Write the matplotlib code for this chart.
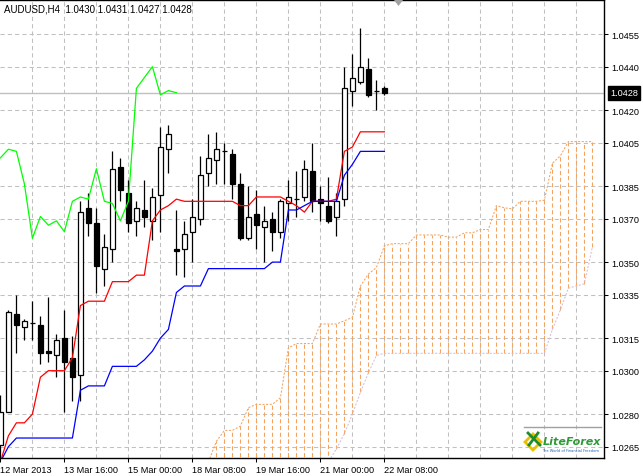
import matplotlib
matplotlib.use("Agg")
import matplotlib.pyplot as plt
from matplotlib.patches import Rectangle, Polygon
from matplotlib.lines import Line2D
import matplotlib.transforms as mtransforms

# ---------------- data ----------------
title_text = "AUDUSD,H4  1.0430 1.0431 1.0427 1.0428"
date_labels = ["12 Mar 2013", "13 Mar 16:00", "15 Mar 00:00", "18 Mar 08:00",
               "19 Mar 16:00", "21 Mar 00:00", "22 Mar 08:00"]
price_ticks = [1.0455, 1.0440, 1.0420, 1.0405, 1.0385, 1.0370, 1.0350,
               1.0335, 1.0315, 1.0300, 1.0280, 1.0265]

opens = [1.0266, 1.0281, 1.0326, 1.0320, 1.0322, 1.0321, 1.0309, 1.0307, 1.0315, 1.0306,
         1.0298, 1.0375, 1.0368, 1.0347, 1.0356, 1.0394, 1.0382, 1.0369, 1.0374, 1.0369,
         1.0381, 1.0402, 1.0356, 1.0356, 1.0364, 1.0370, 1.0391, 1.0397, 1.0401, 1.0400,
         1.0386, 1.0361, 1.0372, 1.0366, 1.0370, 1.0364, 1.0377, 1.0379, 1.0380, 1.0392,
         1.0379, 1.0376, 1.0371, 1.0379, 1.0429, 1.0433, 1.0439, 1.0429, 1.0430]
highs = [1.0289, 1.0328, 1.0335, 1.0324, 1.0332, 1.0325, 1.0334, 1.0317, 1.0328, 1.0316,
         1.0378, 1.0382, 1.0375, 1.0363, 1.0401, 1.0398, 1.0388, 1.0378, 1.0388, 1.0384,
         1.0412, 1.0413, 1.0374, 1.0369, 1.0379, 1.0399, 1.0409, 1.0410, 1.0405, 1.0402,
         1.0391, 1.0385, 1.0383, 1.0376, 1.0373, 1.0379, 1.0388, 1.0392, 1.0397, 1.0405,
         1.0385, 1.0389, 1.0382, 1.0440, 1.0446, 1.0458, 1.0444, 1.0434, 1.0431]
lows = [1.0259, 1.0281, 1.0308, 1.0314, 1.0314, 1.0303, 1.0304, 1.0297, 1.0281, 1.0286,
        1.0286, 1.0362, 1.0336, 1.0339, 1.0350, 1.0378, 1.0364, 1.0362, 1.0366, 1.0360,
        1.0364, 1.0391, 1.0344, 1.0343, 1.0350, 1.0367, 1.0385, 1.0386, 1.0386, 1.0379,
        1.0360, 1.0360, 1.0356, 1.0350, 1.0355, 1.0361, 1.0369, 1.0371, 1.0378, 1.0373,
        1.0369, 1.0368, 1.0362, 1.0376, 1.0422, 1.0432, 1.0426, 1.0420, 1.0427]
closes = [1.0281, 1.0327, 1.0321, 1.0323, 1.0322, 1.0308, 1.0308, 1.0314, 1.0304, 1.0297,
          1.0373, 1.0368, 1.0348, 1.0357, 1.0393, 1.0383, 1.0368, 1.0375, 1.0371, 1.0380,
          1.0403, 1.0409, 1.0355, 1.0363, 1.0371, 1.0390, 1.0398, 1.0402, 1.0401, 1.0386,
          1.0361, 1.0371, 1.0367, 1.0369, 1.0364, 1.0378, 1.0380, 1.0379, 1.0393, 1.0378,
          1.0377, 1.0369, 1.0378, 1.0430, 1.0435, 1.0440, 1.0427, 1.0429, 1.0428]

tenkan = [1.0258, 1.0270, 1.0276, 1.0276, 1.0280, 1.0297, 1.0300, 1.0300, 1.0300, 1.0306,
          1.0330, 1.0332, 1.0332, 1.0332, 1.0341, 1.0341, 1.0341, 1.0344, 1.0344, 1.0369,
          1.0374, 1.0376, 1.0379, 1.0378, 1.0378, 1.0378, 1.0378, 1.0378, 1.0378, 1.0378,
          1.0376, 1.0376, 1.0380, 1.0380, 1.0380, 1.0380, 1.0378, 1.0376, 1.0373, 1.0378,
          1.0378, 1.0378, 1.0379, 1.0401, 1.0403, 1.0410, 1.0410, 1.0410, 1.0410]
kijun = [1.0258, 1.0265, 1.0269, 1.0269, 1.0269, 1.0269, 1.0269, 1.0269, 1.0269, 1.0269,
         1.0291, 1.0293, 1.0293, 1.0293, 1.0302, 1.0302, 1.0302, 1.0302, 1.0305, 1.0309,
         1.0315, 1.0319, 1.0336, 1.0339, 1.0339, 1.0339, 1.0347, 1.0347, 1.0347, 1.0347,
         1.0347, 1.0347, 1.0347, 1.0347, 1.0350, 1.0350, 1.0374, 1.0374, 1.0376, 1.0378,
         1.0378, 1.0378, 1.0378, 1.0390, 1.0395, 1.0401, 1.0401, 1.0401, 1.0401]
# Senkou span B, bars 26..74 (already shifted forward)
senkou_b = [1.0250, 1.0250, 1.0250, 1.0250, 1.0250, 1.0250, 1.0250, 1.0250, 1.0250, 1.0250,
            1.0250, 1.0250, 1.0250, 1.0250, 1.0255, 1.0258, 1.0264, 1.0271, 1.0280, 1.0290,
            1.0299, 1.0307, 1.0308, 1.0308, 1.0308, 1.0308, 1.0308, 1.0308, 1.0308, 1.0308,
            1.0308, 1.0308, 1.0308, 1.0308, 1.0308, 1.0308, 1.0308, 1.0308, 1.0308, 1.0308,
            1.0308, 1.0308, 1.0308, 1.0319, 1.0328, 1.0338, 1.0339, 1.0340, 1.0357]
shift = 26

# ---------------- figure ----------------
W, H = 643, 477
fig = plt.figure(figsize=(W / 100, H / 100), dpi=100)
fig.patch.set_facecolor("white")
ax = fig.add_axes([0, 18 / H, 604 / W, 458 / H])
ax.set_facecolor("white")

n = len(closes)
xs = list(range(n))
ax.set_xlim(-0.05, 75.45)
ax.set_ylim(1.02598, 1.04707)

FONT = "Liberation Sans"
grid_kw = dict(color="#c0c0c0", linestyle=(0, (4, 3)), linewidth=0.75)

# grid
for p in price_ticks:
    ax.axhline(p, zorder=0, **grid_kw)
for gx in range(4, 76, 4):
    ax.axvline(gx, zorder=0, **grid_kw)

# ticks
ax.yaxis.tick_right()
ax.set_yticks(price_ticks)
ax.set_yticklabels([f"{p:.4f}" for p in price_ticks], fontsize=6.6, family=FONT)
ax.tick_params(axis="y", length=3, width=0.75, pad=2, color="black")
major_x = list(range(0, 8 * len(date_labels), 8))
ax.set_xticks(major_x)
ax.set_xticklabels(date_labels, fontsize=6.6, family=FONT, ha="left")
ax.tick_params(axis="x", length=3, width=0.75, pad=2)
ax.spines["left"].set_visible(False)
for s in ("top", "right", "bottom"):
    ax.spines[s].set_linewidth(1.0)
    ax.spines[s].set_color("black")

# bid line
ax.axhline(closes[-1], color="#c0c0c0", linewidth=1.0, zorder=1)

# cloud (Senkou A derived from tenkan / kijun, shifted forward)
senkou_a = [(t + k) / 2 for t, k in zip(tenkan, kijun)]
cloud_x = [i + shift for i in xs]
ax.vlines(cloud_x, senkou_b, senkou_a, colors="#f4a460",
          linestyles=[(0, (4, 2.5))], linewidth=0.75, zorder=2)
ax.plot(cloud_x, senkou_a, color="#f4a460", linestyle=(0, (2, 1.5)), linewidth=0.75, zorder=2)
ax.plot(cloud_x, senkou_b, color="#d8bfd8", linestyle=(0, (2, 1.5)), linewidth=0.75, zorder=2)

# candles
bw = 0.66
for i in xs:
    o, h, l, c = opens[i], highs[i], lows[i], closes[i]
    ax.vlines(i, l, h, colors="black", linewidth=0.9, zorder=3)
    if c == o:
        ax.hlines(o, i - bw / 2, i + bw / 2, colors="black", linewidth=0.9, zorder=4)
    else:
        fc = "white" if c > o else "black"
        ax.add_patch(Rectangle((i - bw / 2, min(o, c)), bw, abs(c - o),
                               facecolor=fc, edgecolor="black", linewidth=0.9, zorder=4))

# ichimoku lines
ax.plot(xs, tenkan, color="#ff0000", linewidth=0.9, zorder=5)
ax.plot(xs, kijun, color="#0000ff", linewidth=0.9, zorder=5)
chikou_x = [i - shift for i in xs[shift:]]
ax.plot(chikou_x, closes[shift:], color="#00ff00", linewidth=0.9, zorder=5)

# current price label
ax.annotate(f"{closes[-1]:.4f}", xy=(1.0, closes[-1]), xycoords=("axes fraction", "data"),
            xytext=(6, 0), textcoords="offset pixels", va="center", ha="left",
            fontsize=6.6, family=FONT, color="white",
            bbox=dict(boxstyle="square,pad=0.25", facecolor="black", edgecolor="black"),
            annotation_clip=False)

# title
fig.text(4 / W, 1 - 9.5 / H, title_text, fontsize=7, family=FONT, color="#000000",
         va="center", ha="left")

# chart shift marker
fig.add_artist(Polygon([[394 / W, 1 - 1 / H], [403 / W, 1 - 1 / H], [398.5 / W, 1 - 7 / H]],
                       closed=True, facecolor="#a0a0a0", edgecolor="none",
                       transform=fig.transFigure))

# logo (approximate)
fig.add_artist(Line2D([524 / W, 601 / W], [1 - 428 / H, 1 - 428 / H], color="#a0a0a0",
                      linewidth=1.0, transform=fig.transFigure))
fig.add_artist(Polygon([[525 / W, 1 - 443 / H], [533 / W, 1 - 435 / H], [541 / W, 1 - 443 / H],
                        [533 / W, 1 - 451 / H]], closed=True, facecolor="none",
                       edgecolor="#e8c000", linewidth=2.0, transform=fig.transFigure))
fig.add_artist(Line2D([528 / W, 540 / W], [1 - 434 / H, 1 - 446 / H], color="#1e8c2a",
                      linewidth=2.0, transform=fig.transFigure))
fig.add_artist(Line2D([529 / W, 538 / W], [1 - 446 / H, 1 - 434 / H], color="#1e8c2a",
                      linewidth=2.0, transform=fig.transFigure))
fig.text(543 / W, 1 - 442 / H, "LiteForex", fontsize=8, family="DejaVu Sans",
         style="italic", weight="bold", color="#2f9a3a", va="center", ha="left")
fig.text(542 / W, 1 - 451 / H, "The World of Financial Freedom", fontsize=2.6,
         family="DejaVu Sans", color="#2060c0", va="center", ha="left")

fig.savefig("out.png", dpi=100, facecolor="white")
